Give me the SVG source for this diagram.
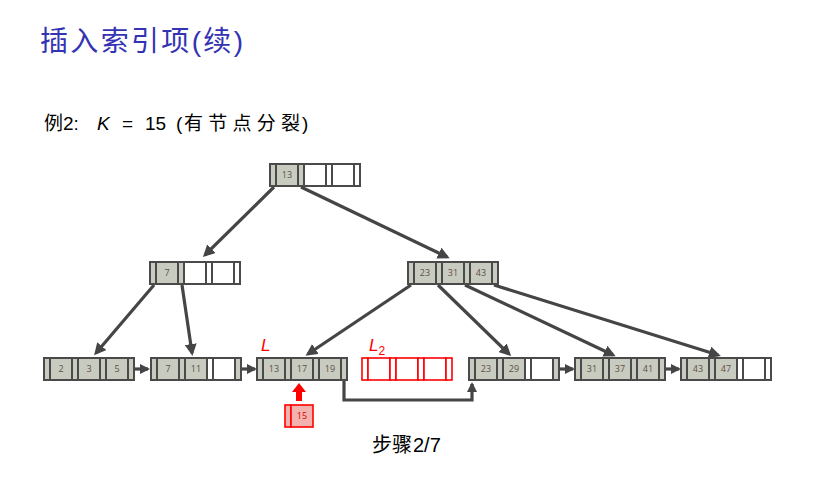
<svg xmlns="http://www.w3.org/2000/svg" width="839" height="478" viewBox="0 0 839 478">
<style>
.t{font-family:"Liberation Sans","Noto Sans CJK SC",sans-serif}
.title{font-size:28px;fill:#3333b3}
.sub{font-size:19px;fill:#000}
.c{stroke:#4a4a4a;stroke-width:2;fill:#fff}
.g{fill:#c8cbc0}
.r{stroke:#ff0000;stroke-width:1.6;fill:#fff}
.rg{fill:#f2b2ad}
.k{font-family:"Open Sans","DejaVu Sans",sans-serif;font-size:9px;fill:#5e5040;text-anchor:middle}
.rk{fill:#e00000}
.e{stroke:#454545;stroke-width:3.2;fill:none}
.lbl{font-family:"Liberation Sans",sans-serif;font-style:italic;font-size:17px;fill:#ff0000}
</style>
<defs>
<marker id="ah" markerWidth="10" markerHeight="10" refX="8" refY="5" orient="auto" markerUnits="userSpaceOnUse" viewBox="0 0 10 10">
<path d="M0,0 L10,5 L0,10 z" fill="#454545"/>
</marker>
<marker id="ah2" markerWidth="12" markerHeight="12" refX="9" refY="6" orient="auto" markerUnits="userSpaceOnUse" viewBox="0 0 12 12">
<path d="M0,0 L12,6 L0,12 z" fill="#454545"/>
</marker>
</defs>
<rect width="839" height="478" fill="#fff"/>
<text class="t title" x="40" y="51" textLength="203" lengthAdjust="spacing">插入索引项(续)</text>
<g class="t sub">
<text x="44" y="130">例2:</text>
<text x="97" y="130" font-style="italic">K</text>
<text x="122" y="130">=</text>
<text x="145" y="130">15</text>
<text x="176" y="130">(</text>
<text x="184" y="130" textLength="116" lengthAdjust="spacing">有节点分裂</text>
<text x="302" y="130">)</text>
<text x="372" y="452" font-size="20">步骤</text>
<text x="413" y="452" font-size="20">2/7</text>
</g>

<g id="edges">
<line class="e" x1="274" y1="187" x2="205" y2="255" marker-end="url(#ah2)"/>
<line class="e" x1="301" y1="187" x2="447" y2="257" marker-end="url(#ah2)"/>
<line class="e" x1="154" y1="285" x2="96" y2="353" marker-end="url(#ah2)"/>
<line class="e" x1="182" y1="285" x2="192" y2="353" marker-end="url(#ah2)"/>
<line class="e" x1="411" y1="285" x2="308" y2="354" marker-end="url(#ah2)"/>
<line class="e" x1="438" y1="285" x2="509" y2="354" marker-end="url(#ah2)"/>
<line class="e" x1="465" y1="285" x2="613" y2="355" marker-end="url(#ah2)"/>
<line class="e" x1="494" y1="285" x2="718" y2="355" marker-end="url(#ah2)"/>
<line class="e" x1="134" y1="369" x2="148" y2="369" marker-end="url(#ah)"/>
<line class="e" x1="241" y1="369" x2="255" y2="369" marker-end="url(#ah)"/>
<line class="e" x1="560" y1="369" x2="573" y2="369" marker-end="url(#ah)"/>
<line class="e" x1="666" y1="369" x2="679" y2="369" marker-end="url(#ah)"/>
<polyline class="e" points="344,380 344,400 472,400 472,384" marker-end="url(#ah)"/>
<polygon points="296,401 302,401 302,392 306,392 299,383 292,392 296,392" fill="#ff0000"/>
</g>

<g id="root" transform="translate(270,164)">
<rect class="c g" x="0" y="0" width="6" height="22"/><rect class="c g" x="6" y="0" width="22" height="22"/><rect class="c g" x="28" y="0" width="6" height="22"/><rect class="c" x="34" y="0" width="22" height="22"/><rect class="c" x="56" y="0" width="6" height="22"/><rect class="c" x="62" y="0" width="22" height="22"/><rect class="c" x="84" y="0" width="6" height="22"/>
<text class="k" x="17" y="14">13</text>
</g>

<g id="n7" transform="translate(150,262)">
<rect class="c g" x="0" y="0" width="6" height="22"/><rect class="c g" x="6" y="0" width="22" height="22"/><rect class="c g" x="28" y="0" width="6" height="22"/><rect class="c" x="34" y="0" width="22" height="22"/><rect class="c" x="56" y="0" width="6" height="22"/><rect class="c" x="62" y="0" width="22" height="22"/><rect class="c" x="84" y="0" width="6" height="22"/>
<text class="k" x="17" y="14">7</text>
</g>

<g id="n23" transform="translate(408,262)">
<rect class="c g" x="0" y="0" width="6" height="22"/><rect class="c g" x="6" y="0" width="22" height="22"/><rect class="c g" x="28" y="0" width="6" height="22"/><rect class="c g" x="34" y="0" width="22" height="22"/><rect class="c g" x="56" y="0" width="6" height="22"/><rect class="c g" x="62" y="0" width="22" height="22"/><rect class="c g" x="84" y="0" width="6" height="22"/>
<text class="k" x="17" y="14">23</text><text class="k" x="45" y="14">31</text><text class="k" x="73" y="14">43</text>
</g>

<g id="leaf1" transform="translate(44,358)">
<rect class="c g" x="0" y="0" width="6" height="22"/><rect class="c g" x="6" y="0" width="22" height="22"/><rect class="c g" x="28" y="0" width="6" height="22"/><rect class="c g" x="34" y="0" width="22" height="22"/><rect class="c g" x="56" y="0" width="6" height="22"/><rect class="c g" x="62" y="0" width="22" height="22"/><rect class="c g" x="84" y="0" width="6" height="22"/>
<text class="k" x="17" y="14">2</text><text class="k" x="45" y="14">3</text><text class="k" x="73" y="14">5</text>
</g>

<g id="leaf2" transform="translate(151,358)">
<rect class="c g" x="0" y="0" width="6" height="22"/><rect class="c g" x="6" y="0" width="22" height="22"/><rect class="c g" x="28" y="0" width="6" height="22"/><rect class="c g" x="34" y="0" width="22" height="22"/><rect class="c" x="56" y="0" width="6" height="22"/><rect class="c" x="62" y="0" width="22" height="22"/><rect class="c g" x="84" y="0" width="6" height="22"/>
<text class="k" x="17" y="14">7</text><text class="k" x="45" y="14">11</text>
</g>

<g id="leaf3" transform="translate(257,358)">
<rect class="c g" x="0" y="0" width="6" height="22"/><rect class="c g" x="6" y="0" width="22" height="22"/><rect class="c g" x="28" y="0" width="6" height="22"/><rect class="c g" x="34" y="0" width="22" height="22"/><rect class="c g" x="56" y="0" width="6" height="22"/><rect class="c g" x="62" y="0" width="22" height="22"/><rect class="c g" x="84" y="0" width="6" height="22"/>
<text class="k" x="17" y="14">13</text><text class="k" x="45" y="14">17</text><text class="k" x="73" y="14">19</text>
</g>
<text class="lbl" x="261" y="351">L</text>

<g id="L2" transform="translate(362,358)">
<rect class="r" x="0" y="0" width="6" height="22"/><rect class="r" x="6" y="0" width="22" height="22"/><rect class="r" x="28" y="0" width="6" height="22"/><rect class="r" x="34" y="0" width="22" height="22"/><rect class="r" x="56" y="0" width="6" height="22"/><rect class="r" x="62" y="0" width="22" height="22"/><rect class="r" x="84" y="0" width="6" height="22"/>
</g>
<text class="lbl" x="369" y="351">L<tspan font-style="normal" font-size="12" dy="4">2</tspan></text>

<g id="leaf4" transform="translate(469,358)">
<rect class="c g" x="0" y="0" width="6" height="22"/><rect class="c g" x="6" y="0" width="22" height="22"/><rect class="c g" x="28" y="0" width="6" height="22"/><rect class="c g" x="34" y="0" width="22" height="22"/><rect class="c" x="56" y="0" width="6" height="22"/><rect class="c" x="62" y="0" width="22" height="22"/><rect class="c g" x="84" y="0" width="6" height="22"/>
<text class="k" x="17" y="14">23</text><text class="k" x="45" y="14">29</text>
</g>

<g id="leaf5" transform="translate(575,358)">
<rect class="c g" x="0" y="0" width="6" height="22"/><rect class="c g" x="6" y="0" width="22" height="22"/><rect class="c g" x="28" y="0" width="6" height="22"/><rect class="c g" x="34" y="0" width="22" height="22"/><rect class="c g" x="56" y="0" width="6" height="22"/><rect class="c g" x="62" y="0" width="22" height="22"/><rect class="c g" x="84" y="0" width="6" height="22"/>
<text class="k" x="17" y="14">31</text><text class="k" x="45" y="14">37</text><text class="k" x="73" y="14">41</text>
</g>

<g id="leaf6" transform="translate(681,358)">
<rect class="c g" x="0" y="0" width="6" height="22"/><rect class="c g" x="6" y="0" width="22" height="22"/><rect class="c g" x="28" y="0" width="6" height="22"/><rect class="c g" x="34" y="0" width="22" height="22"/><rect class="c" x="56" y="0" width="6" height="22"/><rect class="c" x="62" y="0" width="22" height="22"/><rect class="c" x="84" y="0" width="6" height="22"/>
<text class="k" x="17" y="14">43</text><text class="k" x="45" y="14">47</text>
</g>

<g id="new15" transform="translate(285,405)">
<rect class="r rg" x="0" y="0" width="6" height="22"/><rect class="r rg" x="6" y="0" width="22" height="22"/>
<text class="k rk" x="17" y="14">15</text>
</g>
</svg>
